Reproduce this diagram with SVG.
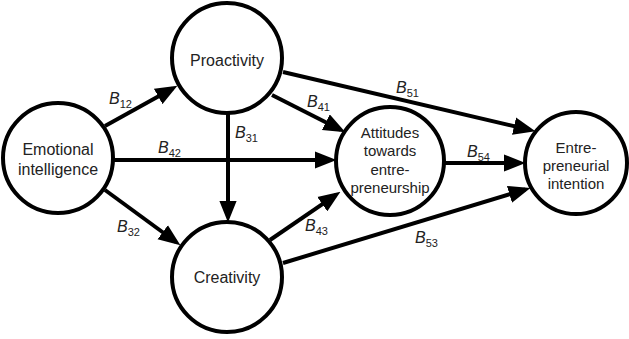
<svg xmlns="http://www.w3.org/2000/svg" width="629" height="339" viewBox="0 0 629 339">
<style>
.node{fill:#fff;stroke:#000;stroke-width:4}
.lbl{font-family:"Liberation Sans",Arial,sans-serif;font-size:15px;fill:#222;text-anchor:middle}
.b{font-family:"Liberation Sans",Arial,sans-serif;font-size:16px;font-style:italic;fill:#222}
.s{font-size:11px;font-style:normal}
.c line{stroke:#000;stroke-width:4;marker-end:url(#ah)}
</style>
<defs>
<marker id="ah" markerUnits="userSpaceOnUse" markerWidth="22" markerHeight="18" viewBox="0 0 20 16" refX="15" refY="8" orient="auto">
<path d="M0,0 L20,8 L0,16 Z" fill="#000"/>
</marker>
</defs>
<g class="c" id="connectors">
<line x1="105" y1="126" x2="172.6" y2="88.4"/>
<line x1="113" y1="160" x2="331" y2="160"/>
<line x1="228" y1="114" x2="228" y2="217"/>
<line x1="105" y1="190" x2="176" y2="242"/>
<line x1="272" y1="95" x2="340.5" y2="129.7"/>
<line x1="283" y1="72" x2="530.1" y2="129.9"/>
<line x1="445" y1="163" x2="520" y2="163"/>
<line x1="270" y1="240" x2="335.9" y2="194.8"/>
<line x1="283" y1="263" x2="525.2" y2="189.5"/>
</g>
<g id="labels">
<text class="b" x="109" y="104">B<tspan class="s" dy="4">12</tspan></text>
<text class="b" x="158" y="153">B<tspan class="s" dy="4">42</tspan></text>
<text class="b" x="235" y="138">B<tspan class="s" dy="4">31</tspan></text>
<text class="b" x="307" y="107">B<tspan class="s" dy="4">41</tspan></text>
<text class="b" x="396" y="93">B<tspan class="s" dy="4">51</tspan></text>
<text class="b" x="467" y="157">B<tspan class="s" dy="4">54</tspan></text>
<text class="b" x="117" y="232">B<tspan class="s" dy="4">32</tspan></text>
<text class="b" x="305" y="231">B<tspan class="s" dy="4">43</tspan></text>
<text class="b" x="415" y="243">B<tspan class="s" dy="4">53</tspan></text>
</g>
<g id="proactivity">
<circle class="node" cx="227" cy="58" r="55"/>
<text class="lbl" x="227" y="66" style="font-size:16px">Proactivity</text>
</g>
<g id="emotional">
<circle class="node" cx="58" cy="158" r="55"/>
<text class="lbl" x="58" y="155" style="font-size:16px">Emotional</text>
<text class="lbl" x="58" y="175" style="font-size:16px">intelligence</text>
</g>
<g id="creativity">
<circle class="node" cx="227" cy="277" r="55"/>
<text class="lbl" x="227" y="283" style="font-size:16px">Creativity</text>
</g>
<g id="attitudes">
<circle class="node" cx="390" cy="161" r="54"/>
<text class="lbl" x="390" y="138">Attitudes</text>
<text class="lbl" x="390" y="156">towards</text>
<text class="lbl" x="390" y="175">entre-</text>
<text class="lbl" x="390" y="193">preneurship</text>
</g>
<g id="intention">
<circle class="node" cx="576" cy="163" r="51"/>
<text class="lbl" x="576" y="153">Entre-</text>
<text class="lbl" x="576" y="171">preneurial</text>
<text class="lbl" x="576" y="189">intention</text>
</g>
</svg>
